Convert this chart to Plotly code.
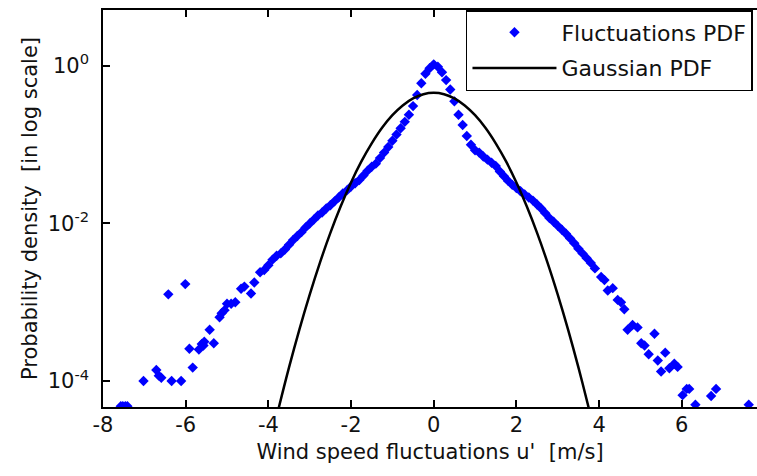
import plotly.graph_objects as go

# Fluctuations PDF
x_fluct = [
    -7.57, -7.52, -7.46, -7.41, -7.02, -6.71, -6.65, -6.59, -6.42, -6.34,
    -6.11, -6.01, -5.91, -5.83, -5.68, -5.61, -5.57, -5.55, -5.42, -5.32,
    -5.18, -5.13, -5.06, -5.00, -4.90, -4.80, -4.66, -4.58, -4.42, -4.34,
    -4.20, -4.10, -4.00,
    -3.9, -3.8, -3.7, -3.6, -3.5, -3.4, -3.3, -3.2, -3.1, -3.0,
    -2.9, -2.8, -2.7, -2.6, -2.5, -2.4, -2.3, -2.2, -2.1, -2.0,
    -1.9, -1.8, -1.7, -1.6, -1.5, -1.4, -1.3, -1.2, -1.1, -1.0,
    -0.9, -0.8, -0.7, -0.6, -0.5, -0.4, -0.3, -0.2, -0.1, 0.0,
    0.1, 0.2, 0.3, 0.4, 0.5, 0.6, 0.7, 0.8, 0.9, 1.0,
    1.1, 1.2, 1.3, 1.4, 1.5, 1.6, 1.7, 1.8, 1.9, 2.0,
    2.1, 2.2, 2.3, 2.4, 2.5, 2.6, 2.7, 2.8, 2.9, 3.0,
    3.1, 3.2, 3.3, 3.4, 3.5, 3.6, 3.7, 3.8, 3.9,
    4.05, 4.13, 4.21, 4.33, 4.45, 4.53, 4.61, 4.69, 4.81, 4.93,
    5.02, 5.10, 5.20, 5.34, 5.42, 5.50, 5.60, 5.70, 5.82, 5.90,
    6.02, 6.12, 6.18, 6.33, 6.71, 6.83, 7.62,
]
pdf_fluct = [
    4.79e-5, 4.79e-5, 4.79e-5, 4.79e-5, 1.00e-4, 1.38e-4, 1.17e-4, 1.10e-4, 1.26e-3, 1.00e-4,
    1.00e-4, 1.70e-3, 2.57e-4, 1.48e-4, 2.51e-4, 2.95e-4, 2.82e-4, 3.16e-4, 4.47e-4, 3.02e-4,
    6.46e-4, 7.24e-4, 7.94e-4, 9.55e-4, 9.55e-4, 1.00e-3, 1.48e-3, 1.58e-3, 1.29e-3, 1.78e-3,
    2.40e-3, 2.57e-3, 2.95e-3,
    0.00347, 0.00389, 0.00417, 0.00468, 0.00537, 0.00617, 0.00692, 0.00776, 0.00891, 0.0100,
    0.0112, 0.0126, 0.0138, 0.0155, 0.0170, 0.0191, 0.0214, 0.0240, 0.0263, 0.0295,
    0.0324, 0.0355, 0.0407, 0.0468, 0.0525, 0.0575, 0.0676, 0.0794, 0.0933, 0.112,
    0.135, 0.162, 0.195, 0.240, 0.309, 0.427, 0.603, 0.794, 0.933, 1.047,
    0.977, 0.832, 0.661, 0.501, 0.355, 0.240, 0.178, 0.129, 0.100, 0.0851,
    0.0794, 0.0708, 0.0646, 0.0589, 0.0537, 0.0457, 0.0398, 0.0347, 0.0309, 0.0282,
    0.0257, 0.0234, 0.0214, 0.0195, 0.0174, 0.0155, 0.0135, 0.0117, 0.0105, 0.00933,
    0.00832, 0.00741, 0.00646, 0.00562, 0.00479, 0.00417, 0.00363, 0.00316, 0.00269,
    2.09e-3, 1.91e-3, 1.41e-3, 1.51e-3, 1.07e-3, 1.00e-3, 8.13e-4, 4.47e-4, 5.13e-4, 4.79e-4,
    3.02e-4, 2.82e-4, 2.19e-4, 3.98e-4, 1.82e-4, 1.32e-4, 2.29e-4, 1.45e-4, 1.66e-4, 1.51e-4,
    6.61e-5, 7.94e-5, 7.94e-5, 5.01e-5, 6.46e-5, 7.94e-5, 5.01e-5,
]

# Gaussian PDF
x_gauss = [-3.9, -3.75, -3.5, -3.25, -3.0, -2.75, -2.5, -2.25, -2.0, -1.75, -1.5, -1.25,
           -1.0, -0.75, -0.5, -0.25, 0.0, 0.25, 0.5, 0.75, 1.0, 1.25, 1.5, 1.75,
           2.0, 2.25, 2.5, 2.75, 3.0, 3.25, 3.5, 3.75, 3.9]
pdf_gauss = [2.14e-5, 4.54e-5, 1.49e-4, 4.50e-4, 1.25e-3, 3.21e-3, 7.59e-3, 1.65e-2, 3.32e-2,
             6.13e-2, 0.104, 0.164, 0.237, 0.315, 0.387, 0.438, 0.456, 0.438, 0.387, 0.315,
             0.237, 0.164, 0.104, 6.13e-2, 3.32e-2, 1.65e-2, 7.59e-3, 3.21e-3, 1.25e-3,
             4.50e-4, 1.49e-4, 4.54e-5, 2.14e-5]

x_ticks = [-8, -6, -4, -2, 0, 2, 4, 6]
y_ticks = [1e-4, 1e-2, 1]
y_ticktext = ["10<sup>-4</sup>", "10<sup>-2</sup>", "10<sup>0</sup>"]

FONT = "DejaVu Sans"

fig = go.Figure()
fig.add_trace(go.Scatter(
    x=x_fluct, y=pdf_fluct, mode="markers", name="Fluctuations PDF",
    legendgroup="a",
    marker=dict(symbol="diamond", size=8, color="#0000ff", line=dict(width=0)),
))
fig.add_trace(go.Scatter(
    x=x_gauss, y=pdf_gauss, mode="lines", name="Gaussian PDF",
    legendgroup="b",
    line=dict(color="black", width=2.5, shape="spline"),
))

fig.update_layout(
    width=757, height=476,
    margin=dict(l=103, r=0, t=10, b=69),
    paper_bgcolor="white", plot_bgcolor="white",
    font=dict(family=FONT, size=21, color="#111111"),
    showlegend=True,
    legend=dict(
        x=0.555, y=1, xanchor="left", yanchor="top",
        bgcolor="white", bordercolor="black", borderwidth=1.5,
        font=dict(family=FONT, size=22, color="#111111"),
        itemwidth=84, tracegroupgap=4,
    ),
)
fig.update_xaxes(
    range=[-8, 7.82], tickvals=x_ticks, ticktext=[str(v) for v in x_ticks],
    showgrid=False, zeroline=False, showline=True, linecolor="black", linewidth=1.5,
    mirror="ticks", ticks="inside", ticklen=7, tickwidth=1.5, tickcolor="black",
    ticklabelstandoff=-2,
    title=dict(text="Wind speed fluctuations u'  [m/s]", standoff=8,
               font=dict(family=FONT, size=21)),
)
fig.update_yaxes(
    type="log", range=[-4.33, 0.71], tickvals=y_ticks, ticktext=y_ticktext,
    showgrid=False, zeroline=False, showline=True, linecolor="black", linewidth=1.5,
    ticks="inside", ticklen=7, tickwidth=1.5, tickcolor="black",
    ticklabelstandoff=8,
    title=dict(text="Probability density  [in log scale]", standoff=4,
               font=dict(family=FONT, size=21)),
)

fig.write_html("out.html")
